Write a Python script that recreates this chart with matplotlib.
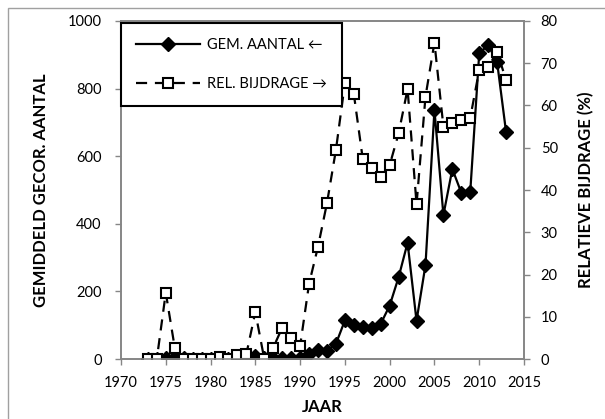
import matplotlib
matplotlib.use("Agg")
import matplotlib.pyplot as plt
from matplotlib.patches import Rectangle

plt.rcParams['font.family'] = ['Lato', 'DejaVu Sans']

# jaren en reeksen
jaren = list(range(1973, 2014))

gem_aantal = [0, 0, 4, 5, 2, 1, 1, 1, 2, 1, 2, 3, 8, 3, 2, 3, 3, 4,
              14, 26, 25, 45, 114, 100, 96, 91, 104, 158, 242, 344, 113, 278,
              737, 426, 562, 492, 495, 904, 929, 878, 671]

rel_bijdrage = [0, 0, 15.7, 2.7, 0, 0, 0, 0, 0.5, 0, 0.9, 1.2, 11.1, 0, 2.7, 7.4, 4.9, 3.1,
                17.8, 26.6, 36.9, 49.5, 65.3, 62.7, 47.3, 45.1, 43.1, 45.9, 53.4, 63.9, 36.6, 62.1,
                74.9, 55.0, 55.8, 56.6, 57.1, 68.4, 69.2, 72.7, 66.0]

W, H = 605, 419
fig = plt.figure(figsize=(W / 100, H / 100), dpi=100)

# plotgebied in pixels: x 121..524, y 21..359
ax = fig.add_axes([121 / W, 1 - 359 / H, 403 / W, 338 / H])
ax2 = ax.twinx()

grijs = '#868686'

l1, = ax.plot(jaren, gem_aantal, color='black', lw=1.6, marker='D', ms=7,
              mfc='black', mec='black', label='GEM. AANTAL \u2190', zorder=3)
l2, = ax2.plot(jaren, rel_bijdrage, color='black', lw=1.6, ls=(0, (5, 3.5)),
               marker='s', ms=7.5, mfc='white', mec='black', mew=1.5,
               label='REL. BIJDRAGE \u2192', zorder=2)

ax.set_xlim(1970, 2015)
ax.set_ylim(0, 1000)
ax2.set_ylim(0, 80)
ax.set_xticks(range(1970, 2016, 5))
ax.set_yticks(range(0, 1001, 200))
ax2.set_yticks(range(0, 81, 10))

for a in (ax, ax2):
    for s in a.spines.values():
        s.set_color(grijs)
        s.set_linewidth(1.2)
    a.tick_params(colors=grijs, labelcolor='black', labelsize=10.5, length=4, width=1)

ax.tick_params(axis='y', pad=10)
ax.tick_params(axis='x', pad=8)
ax2.tick_params(axis='y', pad=8)

ax.set_xlabel('JAAR', fontsize=12, fontweight='bold')
ax.set_ylabel('GEMIDDELD GECOR. AANTAL', fontsize=12, fontweight='bold')
ax2.set_ylabel('RELATIEVE BIJDRAGE (%)', fontsize=12, fontweight='bold')
ax.xaxis.set_label_coords(0.5, -0.118)
ax.yaxis.set_label_coords(-0.178, 0.5)
ax2.yaxis.set_label_coords(1.134, 0.5)

leg = ax2.legend(handles=[l1, l2], loc='upper left', bbox_to_anchor=(0.0, 0.994),
                 borderaxespad=0, fancybox=False, edgecolor='black', framealpha=1,
                 fontsize=10.5, handlelength=4.4, labelspacing=1.75, borderpad=1.0,
                 handletextpad=0.5)
leg.get_frame().set_linewidth(1.5)

# rand rond de grafiek
fig.patches.append(Rectangle((8 / W, -0.1), 1.2, 1 - 8 / H + 0.1, transform=fig.transFigure,
                             fill=False, edgecolor='#a0a0a0', lw=1.0))

fig.savefig('out.png', dpi=100)
